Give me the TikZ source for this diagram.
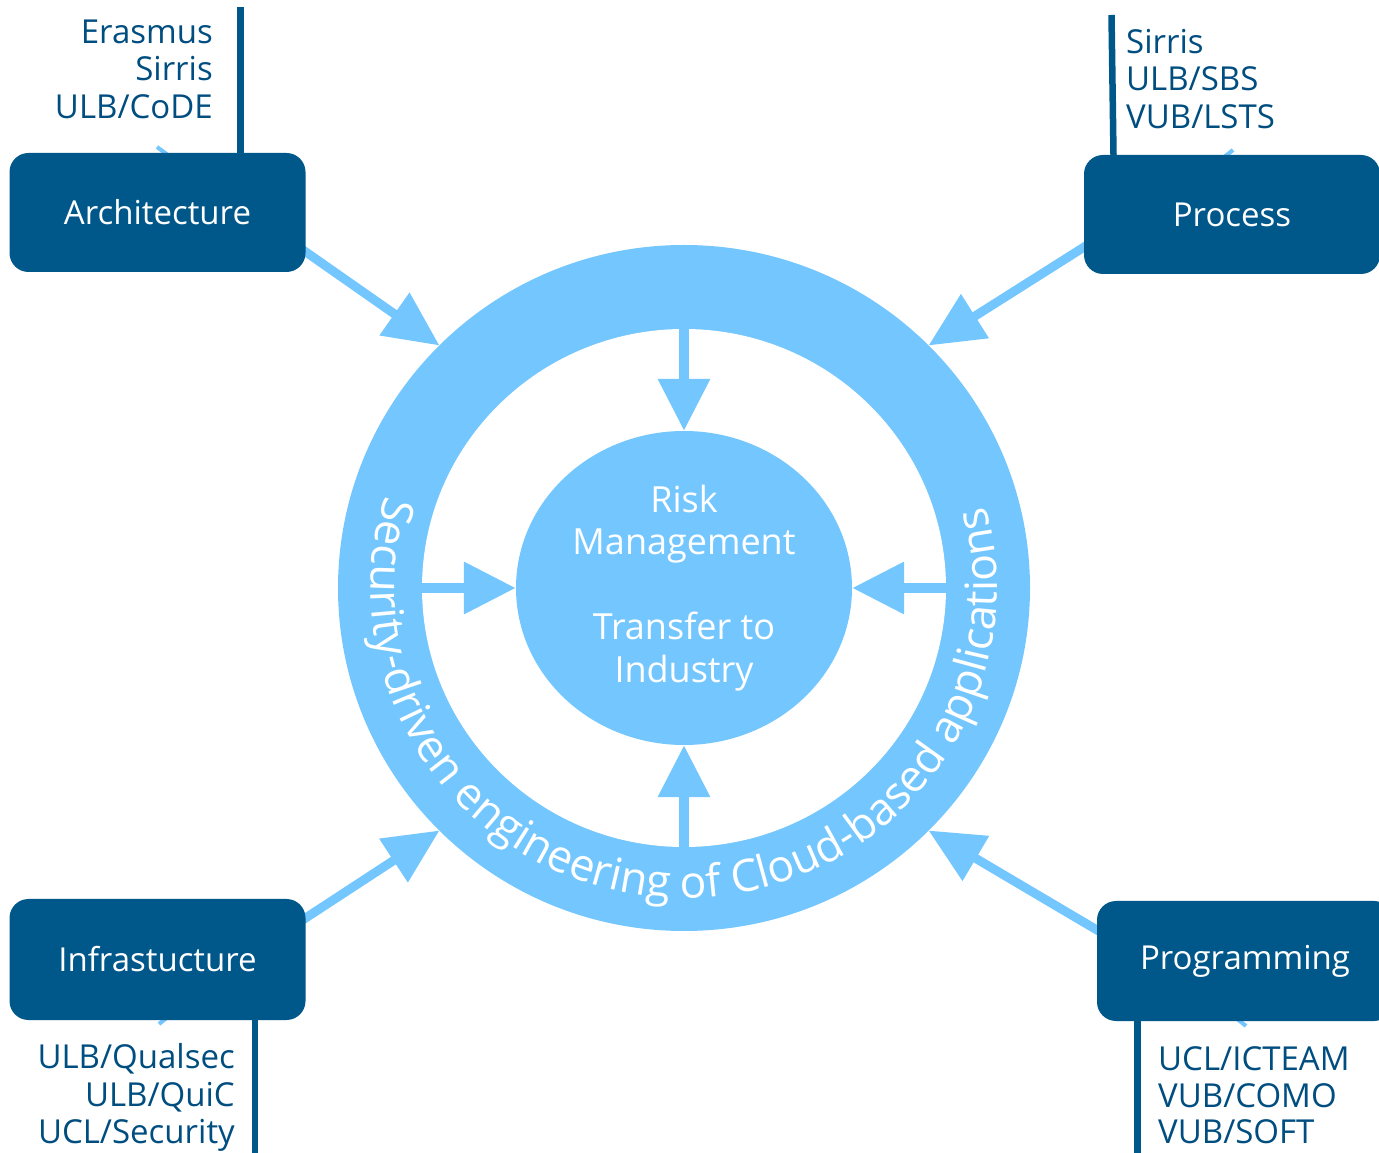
\documentclass[tikz,border=0pt]{standalone}
\usepackage{fontspec}
\setmainfont{Open Sans}
\usetikzlibrary{arrows.meta,shapes.geometric,decorations.text}
\pgfdeclarelayer{background}
\pgfsetlayers{background,main}
\definecolor{darkb}{HTML}{00578A}
\definecolor{listb}{HTML}{004D80}
\definecolor{lightb}{HTML}{74C7FE}
\begin{document}
\begin{tikzpicture}[x=1pt,y=1pt,
  box/.style={fill=darkb, rounded corners=19pt, minimum width=296pt, minimum height=119pt, text=white, font=\fontsize{33}{38}\selectfont, inner sep=0pt},
  lst/.style={text=listb, font=\fontsize{33}{38}\selectfont, inner sep=0pt},
  tick/.style={draw=darkb, line width=6.5pt},
  inarr/.style={draw=lightb, line width=10pt, -{Triangle[length=52pt,width=50pt]}},
  outarr/.style={draw=lightb, line width=9pt, -{Triangle[length=55pt,width=50pt]}},
  sliv/.style={draw=lightb, line width=4pt}]
\useasboundingbox (0,0) rectangle (1379,1152);
\coordinate (C) at (684,564);
% ring
\fill[lightb] (C) ellipse [x radius=346pt, y radius=343pt];
\fill[white] (C) ellipse [x radius=262pt, y radius=259pt];
\path[shift={(684,564)}, decorate, decoration={text along path, text align=center,
  text={|\fontsize{44.5}{50}\selectfont\color{white}|Security-driven engineering of Cloud-based applications}}]
  (155:313pt and 310pt) arc[start angle=155, end angle=383, x radius=313pt, y radius=310pt];
% core
\node[ellipse, fill=lightb, minimum width=336pt, minimum height=314pt, inner sep=0pt, text=white, align=center,
  font=\fontsize{36}{42.5}\selectfont] (core) at (C) {Risk\\Management\\[42.5pt]Transfer to\\Industry};
% inner arrows
\coordinate (rt) at (684,826);
\coordinate (rb) at (684,302);
\coordinate (rl) at (419,564);
\coordinate (rr) at (949,564);
\draw[inarr] (rt) -- (core.north);
\draw[inarr] (rb) -- (core.south);
\draw[inarr] (rl) -- (core.west);
\draw[inarr] (rr) -- (core.east);
% boxes
\node[box] (arch) at (157.5,939.5) {Architecture};
\node[box] (proc) at (1232,937.5) {Process};
\node[box, minimum height=121pt] (infra) at (157.5,192.5) {Infrastucture};
\node[box, minimum height=120pt] (prog) at (1245,191) {Programming};
% lists
\node[lst, anchor=base east] (a1) at (213,1108.5) {Erasmus};
\node[lst, anchor=base east] (a2) at (213,1071) {Sirris};
\node[lst, anchor=base east] (a3) at (213,1033.5) {ULB/CoDE};
\node[lst, anchor=base west] (p1) at (1126,1098.5) {Sirris};
\node[lst, anchor=base west] (p2) at (1126,1061.5) {ULB/SBS};
\node[lst, anchor=base west] (p3) at (1126,1023.5) {VUB/LSTS};
\node[lst, anchor=base east] (i1) at (235,84) {ULB/Qualsec};
\node[lst, anchor=base east] (i2) at (235,46) {ULB/QuiC};
\node[lst, anchor=base east] (i3) at (235,9) {UCL/Security};
\node[lst, anchor=base west] (g1) at (1158,82) {UCL/ICTEAM};
\node[lst, anchor=base west] (g2) at (1158,45) {VUB/COMO};
\node[lst, anchor=base west] (g3) at (1158,9) {VUB/SOFT};
% outer arrows, slivers, lines behind
\coordinate (tA) at (439.5,806.5);
\coordinate (tP) at (928.5,806.5);
\coordinate (tI) at (439.5,321.5);
\coordinate (tG) at (928.5,321.5);
\coordinate (aL) at (240.5,1145);
\coordinate (pL) at (1111.5,1137);
\coordinate (pL2) at (1113.5,900);
\coordinate (iL) at (255,-5);
\coordinate (gL) at (1137.5,-5);
\coordinate (sA1) at (157,1005);
\coordinate (sA2) at (172,994);
\coordinate (sP1) at (1233,1002);
\coordinate (sP2) at (1218,990);
\coordinate (sI1) at (159,128);
\coordinate (sI2) at (174,140);
\coordinate (sG1) at (1246,126);
\coordinate (sG2) at (1231,138);
\begin{pgfonlayer}{background}
\draw[outarr] ([shift={(-12pt,-31pt)}]arch.east) -- (tA);
\draw[outarr] ([shift={(13pt,-24.5pt)}]proc.west) -- (tP);
\draw[outarr] ([shift={(-12.6pt,33.3pt)}]infra.east) -- (tI);
\draw[outarr] ([shift={(13pt,23.4pt)}]prog.west) -- (tG);
\draw[sliv] (sA1) -- (sA2);
\draw[sliv] (sP1) -- (sP2);
\draw[sliv] (sI1) -- (sI2);
\draw[sliv] (sG1) -- (sG2);
\draw[tick] (aL) -- (aL |- arch.north);
\draw[tick] (pL) -- (pL2 |- proc.north);
\draw[tick] (iL) -- (iL |- infra.south);
\draw[tick] (gL) -- (gL |- prog.south);
\end{pgfonlayer}
\end{tikzpicture}
\end{document}
